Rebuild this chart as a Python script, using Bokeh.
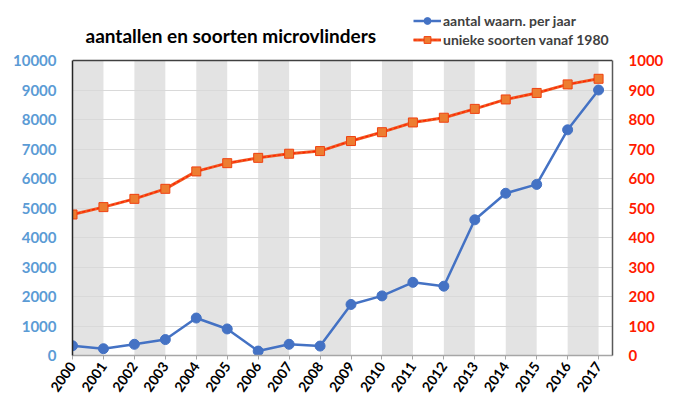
import math
from bokeh.plotting import figure
from bokeh.models import (Range1d, LinearAxis, Legend, LegendItem, Label,
                          FixedTicker, Span)
from bokeh.embed import file_html
from bokeh.resources import INLINE

# ---- data ----
years = [str(y) for y in range(2000, 2018)]
waarnemingen = [330, 230, 380, 540, 1270, 900, 150, 380, 320, 1730,
                2020, 2480, 2350, 4600, 5500, 5800, 7650, 9000]
soorten = [478, 503, 531, 565, 624, 652, 670, 684, 693, 727,
           757, 790, 806, 836, 868, 890, 919, 938]
left_ticks = list(range(0, 10001, 1000))
right_ticks = list(range(0, 1001, 100))
title_text = "aantallen en soorten microvlinders"
label_waarn = "aantal waarn. per jaar"
label_soorten = "unieke soorten vanaf 1980"

idx = list(range(len(years)))

W, H = 676, 400
B_LEFT, B_RIGHT, B_TOP, B_BOTTOM = 72, 64, 10, 45
frame_h = H - B_TOP - B_BOTTOM           # 345 px
data_h = 295                              # px used by 0..10000
left_max = 10000
right_max = 1000
y_end = left_max * frame_h / data_h       # headroom for title and legend

p = figure(width=W, height=H, output_backend="svg", toolbar_location=None,
           x_range=Range1d(0, 17.45), y_range=Range1d(0, y_end),
           min_border_left=B_LEFT, min_border_right=B_RIGHT,
           min_border_top=B_TOP, min_border_bottom=B_BOTTOM)
p.outline_line_color = None
p.background_fill_color = "white"
p.xgrid.visible = False
p.ygrid.ticker = FixedTicker(ticks=left_ticks)
p.ygrid.grid_line_color = "#D9D9D9"
p.ygrid.grid_line_width = 1

# alternating grey bands
band_left = [i for i in idx[:-1] if i % 2 == 0]
band_right = [i + 1 for i in band_left]
bands = p.quad(left=band_left, right=band_right, bottom=0, top=left_max,
               fill_color="#E3E3E3", line_color=None)
bands.level = "image"

# series
bl = p.line(idx, waarnemingen, line_color="#4472C4", line_width=2.5)
bc = p.scatter(idx, waarnemingen, marker="circle", size=10,
               fill_color="#4472C4", line_color="#4472C4")

p.extra_y_ranges = {"soorten": Range1d(0, right_max * frame_h / data_h)}
ol = p.line(idx, soorten, line_color="#F05A22", line_width=3, y_range_name="soorten")
od = p.line(idx, soorten, line_color="#FF2000", line_width=1.2, line_dash="3 2",
            y_range_name="soorten")
oc = p.scatter(idx, soorten, marker="square", size=9, fill_color="#ED7D31",
               line_color="#F04010", y_range_name="soorten")

# axes
font = "Lato"
xa = p.xaxis[0]
xa.ticker = FixedTicker(ticks=idx)
xa.major_label_overrides = {i: years[i] for i in idx}
xa.major_label_orientation = math.radians(55)
xa.major_label_text_font = font
xa.major_label_text_font_style = "bold"
xa.major_label_text_font_size = "14px"
xa.major_label_text_color = "black"
xa.major_label_standoff = 4
xa.axis_line_color = "#A6A6A6"
xa.axis_line_width = 1.5
xa.major_tick_in = 0
xa.major_tick_out = 4
xa.major_tick_line_color = "#A6A6A6"
xa.minor_tick_line_color = None

ya = p.yaxis[0]
ya.ticker = FixedTicker(ticks=left_ticks)
ya.bounds = (0, left_max)
ya.major_label_text_font = font
ya.major_label_text_font_style = "bold"
ya.major_label_text_font_size = "15px"
ya.major_label_text_color = "#5B9BD5"
ya.major_label_standoff = 16
ya.axis_line_color = "#262626"
ya.axis_line_width = 1.5
ya.major_tick_in = 0
ya.major_tick_out = 0
ya.minor_tick_line_color = None

ra = LinearAxis(y_range_name="soorten", ticker=FixedTicker(ticks=right_ticks))
ra.bounds = (0, right_max)
ra.major_label_text_font = font
ra.major_label_text_font_style = "bold"
ra.major_label_text_font_size = "15px"
ra.major_label_text_color = "#FF1A00"
ra.major_label_standoff = 16
ra.axis_line_color = "#595959"
ra.axis_line_width = 1.5
ra.major_tick_in = 0
ra.major_tick_out = 0
ra.minor_tick_line_color = None
p.add_layout(ra, "right")

p.add_layout(Span(location=left_max, dimension="width", line_color="#404040",
                  line_width=1.5))

# title (inside the frame's headroom)
p.add_layout(Label(x=13, y=data_h + 25, x_units="screen", y_units="screen",
                   text=title_text, text_font=font, text_font_style="bold",
                   text_font_size="19px", text_color="black",
                   text_baseline="middle", text_align="left"))

# legend
legend = Legend(items=[LegendItem(label=label_waarn, renderers=[bl, bc]),
                       LegendItem(label=label_soorten, renderers=[ol, od, oc])],
                location=(341, data_h + 12), orientation="vertical")
legend.padding = 0
legend.margin = 0
legend.spacing = 2
legend.glyph_width = 28
legend.glyph_height = 17
legend.label_height = 17
legend.label_standoff = 2
legend.label_text_font = font
legend.label_text_font_style = "bold"
legend.label_text_font_size = "14px"
legend.label_text_color = "#404040"
legend.border_line_color = None
legend.background_fill_alpha = 0
p.add_layout(legend, "center")

open("out.html", "w").write(file_html(p, INLINE))
